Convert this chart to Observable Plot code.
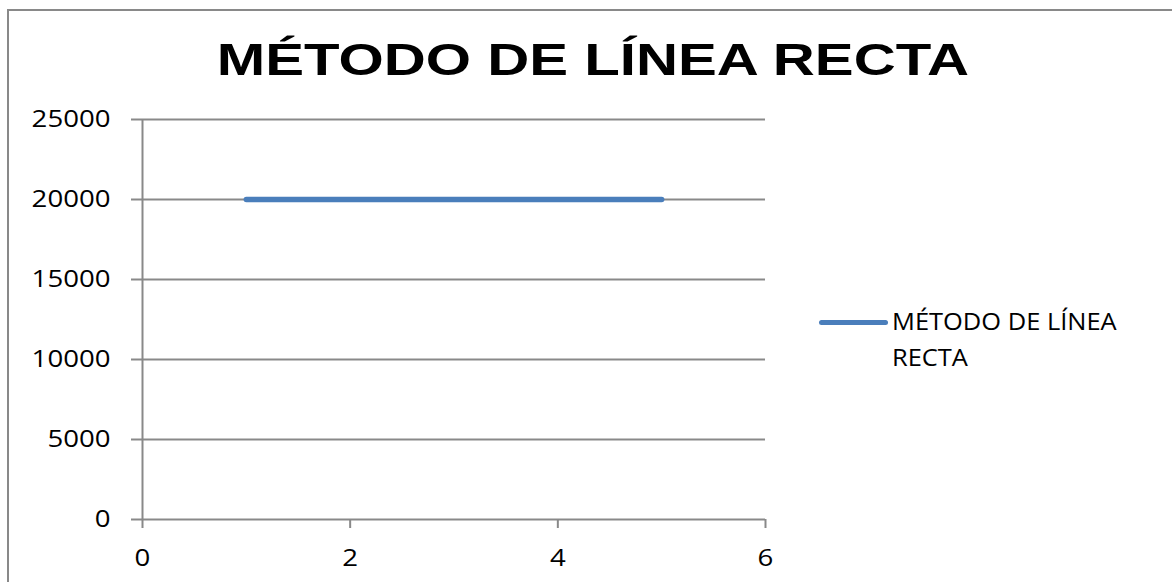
<!DOCTYPE html>
<html>
<head>
<meta charset="utf-8">
<script src="https://cdn.jsdelivr.net/npm/d3@7"></script>
<script src="https://cdn.jsdelivr.net/npm/@observablehq/plot@0.6"></script>
<style>
  html, body { margin: 0; padding: 0; background: #fff; }
  #wrap { position: relative; width: 1172px; height: 582px; overflow: hidden; background: #fff; }
  #frame { position: absolute; left: 7px; top: 9px; width: 1300px; height: 700px; border: 2px solid #898989; box-sizing: border-box; }
  #title { position: relative; height: 100px; box-sizing: border-box; padding-top: 37px; padding-left: 14px; text-align: center;
           font-family: "Liberation Sans", Arial, sans-serif; font-weight: bold; font-size: 45px; line-height: 45px; color: #000; }
  #title span { display: inline-block; transform: scaleX(1.293); transform-origin: center; white-space: nowrap; }
  #chart { position: relative; }
  #legend-line { position: absolute; left: 819px; top: 319.5px; width: 69px; height: 5px; border-radius: 3px; }
  #legend-text { position: absolute; left: 892px; top: 303px; font-family: "Open Sans", sans-serif; font-size: 24px; line-height: 36px;
                 color: #000; transform: scaleX(1.06); transform-origin: left top; white-space: nowrap; }
</style>
</head>
<body>
<div id="wrap">
  <div id="frame"></div>
  <div id="title"><span></span></div>
  <div id="chart"></div>
  <div id="legend-line"></div>
  <div id="legend-text"></div>
</div>
<script>
const chartTitle = "MÉTODO DE LÍNEA RECTA";
const seriesName = "MÉTODO DE LÍNEA RECTA";
const periods = [1, 2, 3, 4, 5];
const values = [20000, 20000, 20000, 20000, 20000];
const xTicks = [0, 2, 4, 6];
const yTicks = [0, 5000, 10000, 15000, 20000, 25000];
const seriesColor = "#4A7EBB";
const gridColor = "#898989";

const data = periods.map((p, i) => ({x: p, y: values[i]}));

document.querySelector("#title span").textContent = chartTitle;
document.getElementById("legend-line").style.background = seriesColor;
const lt = document.getElementById("legend-text");
const parts = seriesName.split(" ");
lt.innerHTML = "";
lt.appendChild(document.createTextNode(parts.slice(0, 3).join(" ")));
lt.appendChild(document.createElement("br"));
lt.appendChild(document.createTextNode(parts.slice(3).join(" ")));

const plot = Plot.plot({
  width: 1172,
  height: 482,
  marginTop: 19,
  marginBottom: 63,
  marginLeft: 142,
  marginRight: 407,
  style: {fontFamily: "Open Sans, sans-serif", fontSize: "24px", color: "#000", background: "transparent"},
  x: {domain: [0, 6]},
  y: {domain: [0, 25000]},
  marks: [
    Plot.ruleY(yTicks, {stroke: gridColor, strokeWidth: 2}),
    Plot.ruleX([0], {stroke: gridColor, strokeWidth: 2}),
    Plot.axisY({ticks: yTicks, tickSize: 11, tickPadding: 21, stroke: gridColor, strokeWidth: 2, fill: "#000", fontSize: 24, tickFormat: d => String(d), label: null}),
    Plot.axisX({ticks: xTicks, tickSize: 9, tickPadding: 20, stroke: gridColor, strokeWidth: 2, fill: "#000", fontSize: 24, tickFormat: d => String(d), label: null}),
    Plot.line(data, {x: "x", y: "y", stroke: seriesColor, strokeWidth: 5.5, strokeLinecap: "round"})
  ]
});
document.getElementById("chart").appendChild(plot);

// Widen tick labels slightly to match the reference's wide lettering
plot.querySelectorAll("g[aria-label$='tick label'] text").forEach(t => {
  const w = t.getComputedTextLength();
  t.setAttribute("textLength", (w * 1.15).toFixed(1));
  t.setAttribute("lengthAdjust", "spacingAndGlyphs");
});
</script>
</body>
</html>
